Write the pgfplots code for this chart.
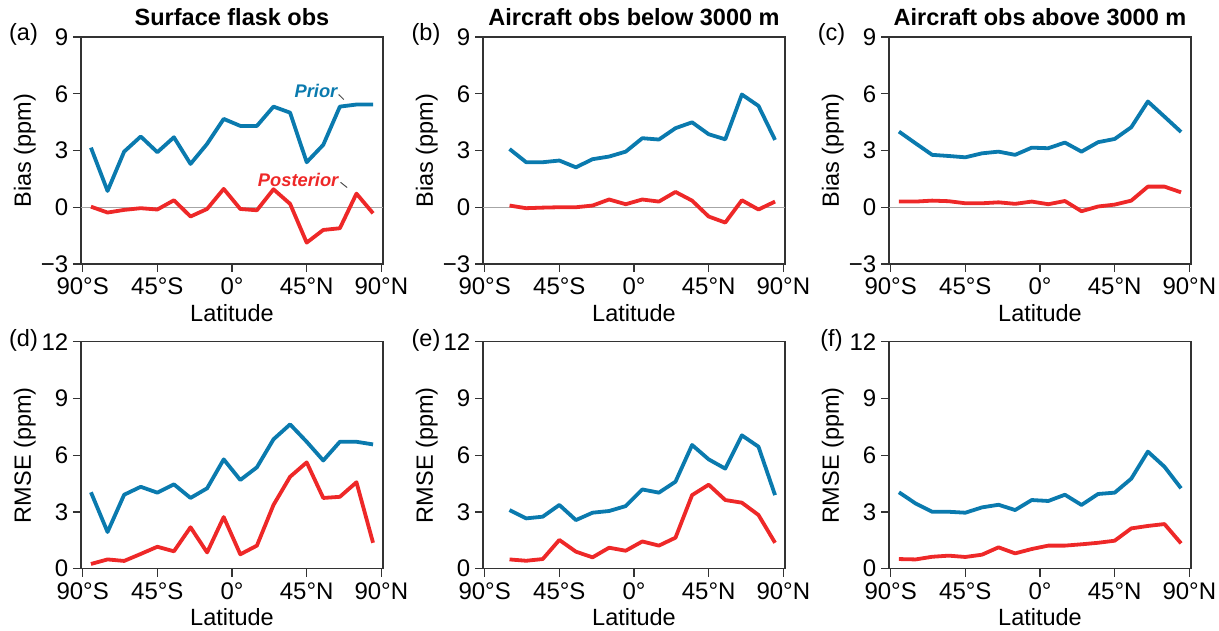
\documentclass[border=0pt]{standalone}
\usepackage{fontspec}
\setmainfont{Liberation Sans}
\usepackage{pgfplots}
\pgfplotsset{compat=1.18}
\usepackage{pgfplotstable}
\definecolor{priorblue}{RGB}{10,122,174}
\definecolor{postred}{RGB}{238,40,40}

\pgfplotstableread{
lat prior post
-85 3.15 0.03
-75 0.86 -0.28
-65 2.94 -0.14
-55 3.74 -0.05
-45 2.91 -0.12
-35 3.70 0.37
-25 2.29 -0.49
-15 3.35 -0.09
-5 4.67 0.97
5 4.30 -0.09
15 4.30 -0.16
25 5.32 0.95
35 5.00 0.18
45 2.38 -1.87
55 3.30 -1.20
65 5.32 -1.11
75 5.43 0.72
85 5.43 -0.32
}\tabA
\pgfplotstableread{
lat prior post
-75 3.08 0.09
-65 2.38 -0.05
-55 2.38 -0.02
-45 2.47 0.00
-35 2.11 0.00
-25 2.54 0.09
-15 2.68 0.41
-5 2.94 0.16
5 3.65 0.41
15 3.58 0.30
25 4.18 0.81
35 4.49 0.35
45 3.86 -0.49
55 3.59 -0.81
65 5.96 0.37
75 5.36 -0.12
85 3.56 0.30
}\tabB
\pgfplotstableread{
lat prior post
-85 4.00 0.30
-75 3.38 0.30
-65 2.77 0.35
-55 2.71 0.32
-45 2.64 0.21
-35 2.85 0.21
-25 2.94 0.26
-15 2.77 0.18
-5 3.15 0.30
5 3.12 0.16
15 3.42 0.33
25 2.94 -0.21
35 3.44 0.04
45 3.61 0.14
55 4.23 0.35
65 5.59 1.09
75 4.79 1.09
85 3.98 0.79
}\tabC
\pgfplotstableread{
lat prior post
-85 4.04 0.25
-75 1.94 0.49
-65 3.91 0.41
-55 4.33 0.78
-45 4.02 1.16
-35 4.46 0.92
-25 3.74 2.19
-15 4.25 0.86
-5 5.78 2.73
5 4.69 0.76
15 5.36 1.22
25 6.84 3.37
35 7.63 4.86
45 6.71 5.62
55 5.72 3.74
65 6.71 3.80
75 6.71 4.57
85 6.57 1.37
}\tabD
\pgfplotstableread{
lat prior post
-75 3.10 0.49
-65 2.66 0.42
-55 2.75 0.51
-45 3.37 1.52
-35 2.57 0.90
-25 2.96 0.60
-15 3.05 1.11
-5 3.31 0.95
5 4.19 1.44
15 4.02 1.22
25 4.60 1.64
35 6.54 3.89
45 5.78 4.44
55 5.29 3.63
65 7.05 3.49
75 6.45 2.84
85 3.89 1.37
}\tabE
\pgfplotstableread{
lat prior post
-85 4.04 0.51
-75 3.45 0.49
-65 3.01 0.63
-55 3.01 0.69
-45 2.96 0.62
-35 3.24 0.74
-25 3.38 1.13
-15 3.10 0.81
-5 3.63 1.04
5 3.58 1.22
15 3.91 1.22
25 3.37 1.29
35 3.95 1.37
45 4.02 1.48
55 4.76 2.13
65 6.19 2.26
75 5.39 2.36
85 4.25 1.34
}\tabF

\pgfplotsset{
 panel/.style={
  scale only axis, width=302pt, height=227pt, anchor=south west,
  xmin=-91, xmax=91, xtick={-90,-45,0,45,90},
  xticklabels={90°S,45°S,0°,45°N,90°N},
  tick align=outside, tick pos=left, major tick length=8pt,
  major tick style={black!80, line width=1.2pt},
  axis line style={black!80, line width=1.2pt},
  tick label style={font=\fontsize{24}{28}\selectfont},
  label style={font=\fontsize{23.5}{28}\selectfont},
  xticklabel style={inner sep=0pt, yshift=-6pt},
  yticklabel style={inner sep=0pt, xshift=-4.5pt},
  xlabel={Latitude},
  xlabel style={at={(axis description cs:0.5,-0.215)}, anchor=center},
  ylabel style={at={(axis description cs:-0.186,0.5)}, anchor=center},
  title style={font=\bfseries\fontsize{23.5}{28}\selectfont, at={(axis description cs:0.5,1)}, anchor=base, inner sep=0pt, yshift=6pt},
  clip=false,
 },
 biasrow/.style={ymin=-3,ymax=9,ytick={-3,0,3,6,9},yticklabels={−3,0,3,6,9},ylabel={Bias (ppm)}},
 rmserow/.style={ymin=0,ymax=12,ytick={0,3,6,9,12},yticklabels={0,3,6,9,12},ylabel={RMSE (ppm)}},
 priorline/.style={color=priorblue, line width=3.8pt, line join=round, no markers},
 postline/.style={color=postred, line width=3.8pt, line join=round, no markers},
}
\newcommand{\zeroline}{\draw[black!35, line width=0.9pt] (axis cs:-91,0) -- (axis cs:91,0);}

\begin{document}
\begin{tikzpicture}
\useasboundingbox (0,0) rectangle (1219pt,630pt);
\tikzset{plab/.style={font=\fontsize{23.5}{28}\selectfont, inner sep=0pt}}

% (a)
\begin{axis}[panel, biasrow, at={(81pt,366pt)}, title={Surface flask obs}]
\zeroline
\addplot[priorline] table[x=lat,y=prior]{\tabA};
\addplot[postline] table[x=lat,y=post]{\tabA};
\node[anchor=east, inner sep=0pt, text=priorblue, font=\bfseries\itshape\fontsize{18.3}{22}\selectfont] at (axis cs:63.6,6.13) {Prior};
\draw[black!70, line width=1pt] (axis cs:64.3,5.96) -- (axis cs:67.4,5.69);
\node[anchor=east, inner sep=0pt, text=postred, font=\bfseries\itshape\fontsize{18.3}{22}\selectfont] at (axis cs:64.2,1.44) {Posterior};
\draw[black!70, line width=1pt] (axis cs:65.4,1.32) -- (axis cs:69.4,1.04);
\end{axis}

% (b)
\begin{axis}[panel, biasrow, at={(483pt,366pt)}, title={Aircraft obs below 3000 m}]
\zeroline
\addplot[priorline] table[x=lat,y=prior]{\tabB};
\addplot[postline] table[x=lat,y=post]{\tabB};
\end{axis}

% (c)
\begin{axis}[panel, biasrow, at={(889pt,366pt)}, title={Aircraft obs above 3000 m}]
\zeroline
\addplot[priorline] table[x=lat,y=prior]{\tabC};
\addplot[postline] table[x=lat,y=post]{\tabC};
\end{axis}

% (d)
\begin{axis}[panel, rmserow, at={(81pt,61.3pt)}]
\addplot[priorline] table[x=lat,y=prior]{\tabD};
\addplot[postline] table[x=lat,y=post]{\tabD};
\end{axis}

% (e)
\begin{axis}[panel, rmserow, at={(483pt,61.3pt)}]
\addplot[priorline] table[x=lat,y=prior]{\tabE};
\addplot[postline] table[x=lat,y=post]{\tabE};
\end{axis}

% (f)
\begin{axis}[panel, rmserow, at={(889pt,61.3pt)}]
\addplot[priorline] table[x=lat,y=prior]{\tabF};
\addplot[postline] table[x=lat,y=post]{\tabF};
\end{axis}

\node[plab] at (23.5pt,595.8pt) {(a)};
\node[plab] at (426pt,595.8pt) {(b)};
\node[plab] at (831.5pt,595.8pt) {(c)};
\node[plab] at (23.5pt,289.5pt) {(d)};
\node[plab] at (426pt,289.5pt) {(e)};
\node[plab] at (831.5pt,289.5pt) {(f)};
\end{tikzpicture}
\end{document}
